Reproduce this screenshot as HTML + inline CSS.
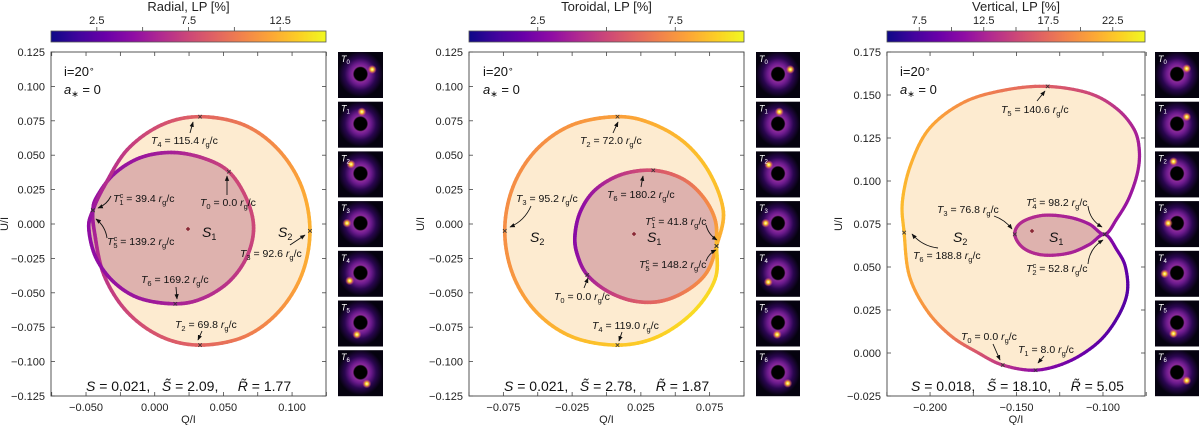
<!DOCTYPE html>
<html><head><meta charset="utf-8">
<style>
html,body{margin:0;padding:0;background:#fff;}
svg{display:block;font-family:"Liberation Sans","DejaVu Sans",sans-serif;}
</style></head>
<body>
<svg id="fig" width="1200" height="425" viewBox="0 0 1200 425">
<defs>
<linearGradient id="plasma" x1="0" x2="1" y1="0" y2="0">
<stop offset="0" stop-color="#0d0887"/><stop offset="0.1" stop-color="#41049d"/><stop offset="0.2" stop-color="#6a00a8"/><stop offset="0.3" stop-color="#8f0da4"/><stop offset="0.4" stop-color="#b12a90"/><stop offset="0.5" stop-color="#cc4778"/><stop offset="0.6" stop-color="#e16462"/><stop offset="0.7" stop-color="#f2844b"/><stop offset="0.8" stop-color="#fca636"/><stop offset="0.9" stop-color="#fcce25"/><stop offset="1" stop-color="#f0f921"/>
</linearGradient>
<radialGradient id="ring" cx="0.5" cy="0.48" r="0.5">
<stop offset="0" stop-color="#000"/><stop offset="0.28" stop-color="#000"/><stop offset="0.34" stop-color="#8a2a9a"/><stop offset="0.48" stop-color="#6a1a8c"/><stop offset="0.7" stop-color="#2a0650"/><stop offset="1" stop-color="#05020f"/>
</radialGradient>
<radialGradient id="spot">
<stop offset="0" stop-color="#ffffd0"/><stop offset="0.35" stop-color="#fcce25"/><stop offset="0.7" stop-color="#e16462" stop-opacity="0.6"/><stop offset="1" stop-color="#cc4778" stop-opacity="0"/>
</radialGradient>
<marker id="ah" viewBox="0 0 10 10" refX="9" refY="5" markerWidth="6" markerHeight="6" orient="auto-start-reverse">
<path d="M0,1 L10,5 L0,9 z" fill="#111"/>
</marker>
</defs>
</svg>
<script>
// ---- Panel 1: Radial ----
const p1Q  = [0.054,0.035,0.012,-0.011,-0.030,-0.042,-0.045,-0.044,-0.037,-0.020,0.005,0.033,0.065,0.090,0.107,0.113,0.107,0.090,0.065,0.033,0.005,-0.020,-0.037,-0.045,-0.048,-0.043,-0.030,-0.011,0.015,0.035,0.054,0.067,0.072,0.067];
const p1U  = [0.038,0.048,0.052,0.048,0.036,0.020,0.010,-0.005,-0.037,-0.064,-0.082,-0.088,-0.082,-0.064,-0.037,-0.005,0.027,0.054,0.072,0.078,0.072,0.054,0.027,0.010,-0.003,-0.024,-0.042,-0.054,-0.058,-0.054,-0.042,-0.024,-0.003,0.018];
const p1LP = [7.5,6.5,5.5,5.0,4.8,4.8,4.8,5.5,6.5,7.5,8.3,9.0,10.0,11.0,12.0,12.5,12.0,11.0,10.0,9.0,8.0,7.0,6.0,5.0,4.5,4.5,4.7,5.0,5.5,6.0,6.5,7.0,7.5,7.5];
const p1Marks = [0,6,11,15,19,23,28];
const p1XTicks = [-0.075,-0.05,-0.025,0,0.025,0.05,0.075,0.1,0.125];
const p1XLabels = [-0.05,0,0.05,0.1];
const p1YTicks = [-0.125,-0.1,-0.075,-0.05,-0.025,0,0.025,0.05,0.075,0.1,0.125];
const p1CbTicks = [2.5,5,7.5,10,12.5];
const p1CbLabels = [2.5,7.5,12.5];
// ---- Panel 2: Toroidal ----
const p2Q  = [-0.014,0.001,0.020,0.040,0.059,0.073,0.080,0.085,0.075,0.057,0.033,0.008,-0.025,-0.051,-0.068,-0.074,-0.068,-0.051,-0.025,0.008,0.037,0.063,0.079,0.080,0.079,0.070,0.055,0.034,0.011,-0.008,-0.019,-0.023,-0.021];
const p2U  = [-0.037,-0.049,-0.056,-0.056,-0.048,-0.035,-0.016,0.009,0.037,0.059,0.073,0.078,0.072,0.054,0.027,-0.005,-0.037,-0.064,-0.082,-0.088,-0.082,-0.064,-0.040,-0.016,0.003,0.020,0.033,0.039,0.036,0.025,0.009,-0.009,-0.023];
const p2LP = [3.5,4.5,5.5,6.2,6.8,7.3,8.0,8.5,8.7,8.5,8.2,7.8,7.5,7.3,7.3,7.3,7.5,8.0,8.5,8.8,9.0,9.3,9.2,8.7,7.5,7.0,6.3,5.5,4.5,3.5,3.0,2.8,3.0];
const p2Marks = [0,6,11,15,19,23,27];
const p2XTicks = [-0.1,-0.075,-0.05,-0.025,0,0.025,0.05,0.075,0.1];
const p2XLabels = [-0.075,-0.025,0.025,0.075];
const p2YTicks = [-0.125,-0.1,-0.075,-0.05,-0.025,0,0.025,0.05,0.075,0.1,0.125];
const p2CbTicks = [2.5,5,7.5];
const p2CbLabels = [2.5,7.5];
// ---- Panel 3: Vertical ----
const p3Q  = [-0.158,-0.139,-0.120,-0.103,-0.092,-0.086,-0.087,-0.092,-0.099,-0.108,-0.120,-0.135,-0.146,-0.151,-0.147,-0.135,-0.120,-0.108,-0.099,-0.092,-0.085,-0.080,-0.079,-0.082,-0.092,-0.108,-0.132,-0.156,-0.180,-0.200,-0.211,-0.216,-0.215,-0.212,-0.202,-0.188,-0.172];
const p3U  = [-0.007,-0.010,-0.005,0.006,0.020,0.035,0.050,0.060,0.069,0.063,0.058,0.057,0.061,0.069,0.076,0.080,0.079,0.075,0.069,0.078,0.090,0.105,0.118,0.130,0.142,0.151,0.155,0.153,0.146,0.131,0.110,0.088,0.070,0.045,0.025,0.010,0.000];
const p3LP = [14,11,9.5,8.5,8,8,8.5,9.5,11,12,12.5,13,13,13,13,13,12.5,12,11.5,11.5,11.5,12,12,12.5,13.5,15,16.5,18,19.5,21,21.5,22,22,21,20,18.5,16];
const p3Marks = [0,1,8,13,18,26,32];
const p3XTicks = [-0.225,-0.2,-0.175,-0.15,-0.125,-0.1,-0.075];
const p3XLabels = [-0.2,-0.15,-0.1];
const p3YTicks = [-0.025,0,0.025,0.05,0.075,0.1,0.125,0.15,0.175];
const p3CbTicks = [7.5,10,12.5,15,17.5,20,22.5];
const p3CbLabels = [7.5,12.5,17.5,22.5];

const NS = "http://www.w3.org/2000/svg";
const svg = document.getElementById('fig');
function mk(tag, attrs, parent){
  const e = document.createElementNS(NS, tag);
  for (const k in attrs) e.setAttribute(k, attrs[k]);
  (parent||svg).appendChild(e);
  return e;
}
const stops=[[0,13,8,135],[0.1,65,4,157],[0.2,106,0,168],[0.3,143,13,164],[0.4,177,42,144],[0.5,204,71,120],[0.6,225,100,98],[0.7,242,132,75],[0.8,252,166,54],[0.9,252,206,37],[1,240,249,33]];
function plasma(t){
  t=Math.max(0,Math.min(1,t));
  for(let i=0;i<stops.length-1;i++){
    const a=stops[i],b=stops[i+1];
    if(t<=b[0]){const f=(t-a[0])/(b[0]-a[0]);
      return `rgb(${Math.round(a[1]+f*(b[1]-a[1]))},${Math.round(a[2]+f*(b[2]-a[2]))},${Math.round(a[3]+f*(b[3]-a[3]))})`;}
  }
  return 'rgb(240,249,33)';
}
const minus = s => s.replace('-', '\u2212');

const panels = [
 {Q:p1Q,U:p1U,LP:p1LP,marks:p1Marks,xt:p1XTicks,xl:p1XLabels,yt:p1YTicks,cbt:p1CbTicks,cbl:p1CbLabels,
  x0:51,x1:326,y0:52,y1:396,xmin:-0.0755,xmax:0.1247,ymin:-0.125,ymax:0.125,cmin:0,cmax:15,title:'Radial, LP [%]',thumbX:338,thumbW:45,ylabX:8,outer:[6,23],lw:3.6,
  spots:[[0.76,0.38],[0.53,0.22],[0.29,0.28],[0.2,0.48],[0.26,0.65],[0.42,0.74],[0.64,0.73]],name:'radial'},
 {Q:p2Q,U:p2U,LP:p2LP,marks:p2Marks,xt:p2XTicks,xl:p2XLabels,yt:p2YTicks,cbt:p2CbTicks,cbl:p2CbLabels,
  x0:469,x1:744,y0:52,y1:396,xmin:-0.1,xmax:0.1,ymin:-0.125,ymax:0.125,cmin:0,cmax:10,title:'Toroidal, LP [%]',thumbX:756,thumbW:44,ylabX:424,outer:[6,23],lw:3.6,
  spots:[[0.78,0.38],[0.53,0.22],[0.29,0.29],[0.22,0.48],[0.28,0.68],[0.48,0.74],[0.72,0.72]],name:'toroidal'},
 {Q:p3Q,U:p3U,LP:p3LP,marks:p3Marks,xt:p3XTicks,xl:p3XLabels,yt:p3YTicks,cbt:p3CbTicks,cbl:p3CbLabels,
  x0:887,x1:1145,y0:52,y1:396,xmin:-0.2249,xmax:-0.0757,ymin:-0.025,ymax:0.175,cmin:5,cmax:25,title:'Vertical, LP [%]',thumbX:1155,thumbW:44,ylabX:842,outer:[18,8],lw:3.2,
  spots:[[0.72,0.36],[0.72,0.33],[0.42,0.22],[0.3,0.48],[0.22,0.5],[0.42,0.72],[0.72,0.66]],name:'vertical'}
];

panels.forEach((P,pi)=>{
  const g = mk('g',{});
  
  
  const sx = v => P.x0 + (v-P.xmin)/(P.xmax-P.xmin)*(P.x1-P.x0);
  const sy = v => P.y1 - (v-P.ymin)/(P.ymax-P.ymin)*(P.y1-P.y0);
  const sc = v => P.x0 + (v-P.cmin)/(P.cmax-P.cmin)*(P.x1-P.x0);
  const cn = v => (v-P.cmin)/(P.cmax-P.cmin);

  const t = mk('text',{x:(P.x0+P.x1)/2,y:11,'text-anchor':'middle','font-size':13,fill:'#222'},g);
  t.textContent = P.title;
  
  
  const cb = mk('rect',{x:P.x0,y:31,width:P.x1-P.x0,height:11,fill:'url(#plasma)',stroke:'#555','stroke-width':0.8},g);
  
  
  P.cbt.forEach(v=>{ mk('line',{x1:sc(v),x2:sc(v),y1:31,y2:27,stroke:'#444','stroke-width':0.8},g); });
  P.cbl.forEach(v=>{
    const tl = mk('text',{x:sc(v),y:24,'text-anchor':'middle','font-size':11,fill:'#222'},g);
    tl.textContent = v.toFixed(1);
    
    
  });

  const n = P.Q.length;
  const px = P.Q.map(sx), py = P.U.map(sy);
  const segs = [];
  for(let i=0;i<n;i++){
    const i0=(i-1+n)%n,i2=(i+1)%n,i3=(i+2)%n;
    const seg=[];
    for(let k=0;k<10;k++){
      const s=k/10,s2=s*s,s3=s2*s;
      const f=(a,b,c,d)=>0.5*((2*b)+(-a+c)*s+(2*a-5*b+4*c-d)*s2+(-a+3*b-3*c+d)*s3);
      seg.push([f(px[i0],px[i],px[i2],px[i3]),f(py[i0],py[i],py[i2],py[i3]),P.LP[i]+(P.LP[i2]-P.LP[i])*s]);
    }
    segs.push(seg);
  }
  const flat=[]; segs.forEach(s=>s.forEach(p=>flat.push(p)));
  function range(a,b){ const out=[]; let i=a; while(true){ segs[i].forEach(p=>out.push(p)); i=(i+1)%n; if(i===b){ out.push(segs[b][0]); break;} } return out; }
  const outer = range(P.outer[0],P.outer[1]);
  const inner = range(P.outer[1],P.outer[0]);
  const fo = mk('polygon',{points:outer.map(p=>p[0].toFixed(1)+','+p[1].toFixed(1)).join(' '),fill:'#fdebd0'},g);
  
  
  const fi = mk('polygon',{points:inner.map(p=>p[0].toFixed(1)+','+p[1].toFixed(1)).join(' '),fill:'#deb2ae'},g);
  
  

  const cg = mk('g',{},g);
  
  
  for(let j=0;j<flat.length;j++){
    const a=flat[j], b=flat[(j+1)%flat.length];
    mk('line',{x1:a[0].toFixed(2),y1:a[1].toFixed(2),x2:b[0].toFixed(2),y2:b[1].toFixed(2),stroke:plasma(cn((a[2]+b[2])/2)),'stroke-width':P.lw,'stroke-linecap':'round'},cg);
  }
  P.marks.forEach(i=>{
    const x=px[i],y=py[i];
    const m = mk('path',{d:`M${x-1.8},${y-1.8}L${x+1.8},${y+1.8}M${x-1.8},${y+1.8}L${x+1.8},${y-1.8}`,stroke:'#333','stroke-width':0.8},g);
    
    
  });

  const box = mk('rect',{x:P.x0,y:P.y0,width:P.x1-P.x0,height:P.y1-P.y0,fill:'none',stroke:'#444','stroke-width':0.9},g);
  
  
  P.xt.forEach(v=>{ const x=sx(v);
    mk('line',{x1:x,x2:x,y1:P.y1,y2:P.y1-4,stroke:'#444','stroke-width':0.8},g);
    mk('line',{x1:x,x2:x,y1:P.y0,y2:P.y0+4,stroke:'#444','stroke-width':0.8},g); });
  P.xl.forEach(v=>{
    const tl = mk('text',{x:sx(v),y:P.y1+15,'text-anchor':'middle','font-size':11,fill:'#222'},g);
    tl.textContent = minus(v.toFixed(3));
    
    
  });
  P.yt.forEach(v=>{ const y=sy(v);
    mk('line',{x1:P.x0,x2:P.x0+4,y1:y,y2:y,stroke:'#444','stroke-width':0.8},g);
    mk('line',{x1:P.x1,x2:P.x1-4,y1:y,y2:y,stroke:'#444','stroke-width':0.8},g);
    const tl = mk('text',{x:P.x0-6,y:y+4,'text-anchor':'end','font-size':11,fill:'#222'},g);
    tl.textContent = minus(v.toFixed(3));
    
    
  });
  const xl = mk('text',{x:(P.x0+P.x1)/2,y:423,'text-anchor':'middle','font-size':11,fill:'#222'},g);
  xl.textContent='Q/I';
  
  
  const yl = mk('text',{x:P.ylabX,y:224,'text-anchor':'middle','font-size':11,fill:'#222',transform:`rotate(-90 ${P.ylabX} 224)`},g);
  yl.textContent='U/I';
  
  

  for(let k=0;k<7;k++){
    const ty = 52 + k*49.7, tw=P.thumbW;
    const tg = mk('g',{},g);
    
    
    mk('rect',{x:P.thumbX,y:ty,width:tw,height:46,fill:'url(#ring)'},tg);
    mk('circle',{cx:P.thumbX+tw*0.5,cy:ty+46*0.48,r:6.2,fill:'#000'},tg);
    const sp=P.spots[k];
    mk('circle',{cx:P.thumbX+tw*sp[0],cy:ty+46*sp[1],r:4.5,fill:'url(#spot)'},tg);
    const tt = mk('text',{x:P.thumbX+3,y:ty+10,'font-size':9,fill:'#fff','font-style':'italic'},tg);
    tt.innerHTML = `T<tspan font-size="6" dy="2" font-style="normal">${k}</tspan>`;
  }
});

function label(x,y,sub,sup,val){
  const t = mk('text',{x:x,y:y+4,'font-size':10.5,fill:'#111'});
  let s = `<tspan font-style="italic">T</tspan><tspan font-size="7.5" dy="3">${sub}</tspan>`;
  if(sup) s += `<tspan font-size="7.5" dx="-4" dy="-7">c</tspan><tspan dy="4"> = ${val} </tspan>`;
  else s += `<tspan dy="-3"> = ${val} </tspan>`;
  s += `<tspan font-style="italic">r</tspan><tspan font-size="7.5" dy="3">g</tspan><tspan dy="-3">/c</tspan>`;
  t.innerHTML = s;
  
  
}
function arrow(x1,y1,x2,y2,c){
  const mx=(x1+x2)/2 + (c||0)*(y2-y1), my=(y1+y2)/2 - (c||0)*(x2-x1);
  const a = mk('path',{d:`M${x1},${y1} Q${mx},${my} ${x2},${y2}`,fill:'none',stroke:'#111','stroke-width':0.9,'marker-end':'url(#ah)'});
  
  
}
function txt(x,y,html,size,name){
  const t = mk('text',{x:x,y:y,'font-size':size,fill:'#111'});
  t.innerHTML = html;
  
  
  return t;
}
function star(x,y){
  const s = mk('path',{d:`M${x-2},${y}L${x+2},${y}M${x},${y-2}L${x},${y+2}`,stroke:'#7a1020','stroke-width':1.2});
  
  
}
// panel 1
label(151,140,'4',false,'115.4'); arrow(190,133,193,122,0);
label(113,198,'1',true,'39.4'); arrow(111,196,98,208,0.2);
label(200,202,'0',false,'0.0'); arrow(227,195,227,176,0);
label(107,241,'5',true,'139.2'); arrow(107,238,96,219,-0.2);
label(240,253,'3',false,'92.6'); arrow(290,245,305,235,0);
label(141,279,'6',false,'169.2'); arrow(176,287,177,299,0);
label(175,324,'2',false,'69.8'); arrow(202,331,198,340,0);
star(188,229);
txt(202,237,'<tspan font-style="italic">S</tspan><tspan font-size="9" dy="3">1</tspan>',14,'s1-label');
txt(278,237,'<tspan font-style="italic">S</tspan><tspan font-size="9" dy="3">2</tspan>',14,'s2-label');
// panel 2
label(580,140,'2',false,'72.0'); arrow(613,133,618,122,0);
label(607,194,'6',false,'180.2'); arrow(641,187,643,176,0);
label(516,198,'3',false,'95.2'); arrow(531,206,510,227,0.2);
label(645,221,'1',true,'41.8'); arrow(706,225,717,240,-0.2);
label(639,264,'5',true,'148.2'); arrow(706,261,716,250,0.2);
label(554,296,'0',false,'0.0'); arrow(584,288,588,278,0);
label(592,325,'4',false,'119.0'); arrow(622,332,619,341,0);
star(634,234);
txt(530,242,'<tspan font-style="italic">S</tspan><tspan font-size="9" dy="3">2</tspan>',14,'s2-label');
txt(647,242,'<tspan font-style="italic">S</tspan><tspan font-size="9" dy="3">1</tspan>',14,'s1-label');
// panel 3
label(1001,109,'5',false,'140.6'); arrow(1037,101,1045,91,0);
label(937,209,'3',false,'76.8'); arrow(994,216,1012,229,0.15);
label(1026,202,'4',true,'98.2'); arrow(1088,206,1102,227,-0.25);
label(913,255,'6',false,'188.8'); arrow(938,248,912,234,0.2);
label(1026,268,'2',true,'52.8'); arrow(1088,264,1103,240,0.25);
label(961,336,'0',false,'0.0'); arrow(993,344,1000,360,0);
label(1018,349,'1',false,'8.0'); arrow(1044,356,1038,363,0);
star(1032,231);
txt(953,242,'<tspan font-style="italic">S</tspan><tspan font-size="9" dy="3">2</tspan>',14,'s2-label');
txt(1049,242,'<tspan font-style="italic">S</tspan><tspan font-size="9" dy="3">1</tspan>',14,'s1-label');
[64,483,900].forEach(x=>{
  txt(x,76,'i=20<tspan font-size="9" dy="-4">\u2218</tspan>',13,'inclination-label');
  txt(x,94,'<tspan font-style="italic">a</tspan><tspan font-size="9" dy="3">\u2217</tspan><tspan dy="-3"> = 0</tspan>',13,'spin-label');
});
const stats=[[86,'0.021','2.09','1.77'],[504,'0.021','2.78','1.87'],[911,'0.018','18.10','5.05']];
stats.forEach(s=>{
  const t = txt(s[0],391,`<tspan font-style="italic">S</tspan> = ${s[1]},   <tspan font-style="italic">S\u0303</tspan> = ${s[2]},     <tspan font-style="italic">R\u0303</tspan> = ${s[3]}`,14,'stats-label');
  t.style.whiteSpace='pre';
});
</script>
</body></html>
